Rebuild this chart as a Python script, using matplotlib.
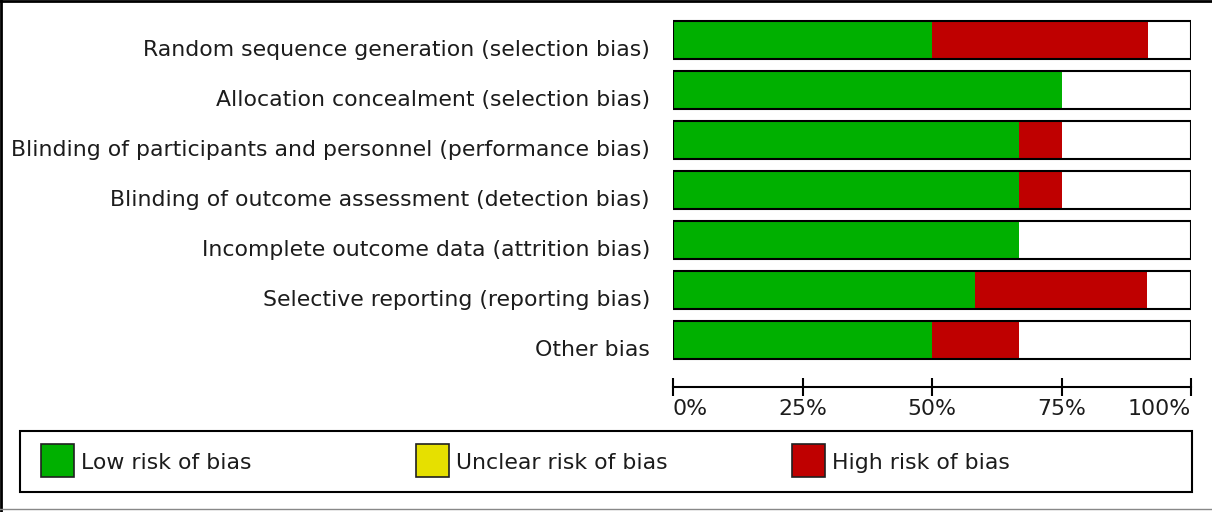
import matplotlib
matplotlib.use("Agg")
import matplotlib.pyplot as plt
from matplotlib.patches import Rectangle
from matplotlib.lines import Line2D

# Risk of bias domains (top to bottom) and percentage of studies per judgement
domains = [
    "Random sequence generation (selection bias)",
    "Allocation concealment (selection bias)",
    "Blinding of participants and personnel (performance bias)",
    "Blinding of outcome assessment (detection bias)",
    "Incomplete outcome data (attrition bias)",
    "Selective reporting (reporting bias)",
    "Other bias",
]
low_pct = [50.0, 75.0, 66.7, 66.7, 66.7, 58.3, 50.0]
high_pct = [41.7, 0.0, 8.3, 8.3, 0.0, 33.3, 16.7]
tick_vals = [0, 25, 50, 75, 100]
tick_labels = ["0%", "25%", "50%", "75%", "100%"]
legend_labels = ["Low risk of bias", "Unclear risk of bias", "High risk of bias"]

green = "#00B000"
yellow = "#E6E000"
red = "#BF0000"
txt = "#1c1c1c"

W, H = 1212, 512
plt.rcParams['font.family'] = ['DejaVu Sans']
fs = 15.8

fig = plt.figure(figsize=(W / 100, H / 100), dpi=100)
ax = fig.add_axes([673 / W, 1 - 365 / H, (1191 - 673) / W, 350 / H])

y = list(range(len(domains)))
bh = 0.77
ax.barh(y, low_pct, height=bh, color=green, linewidth=0)
ax.barh(y, high_pct, left=low_pct, height=bh, color=red, linewidth=0)
# outline of full 0-100% box
ax.barh(y, [100] * len(y), height=bh, facecolor="none", edgecolor="black", linewidth=1.5)

ax.set_xlim(0, 100)
ax.set_ylim(len(domains) - 0.5, -0.5)
ax.set_yticks([])
for s in ["left", "right", "top"]:
    ax.spines[s].set_visible(False)
ax.spines["bottom"].set_position(("outward", 16))
ax.spines["bottom"].set_linewidth(1.5)
ax.set_xticks(tick_vals)
ax.set_xticklabels(tick_labels, fontsize=fs, color=txt)
ax.tick_params(axis="x", direction="inout", length=13, width=1.5, pad=2)
labs = ax.get_xticklabels()
labs[0].set_horizontalalignment("left")
labs[-1].set_horizontalalignment("right")

trans = ax.get_yaxis_transform()
for i, d in enumerate(domains):
    ax.text(-23 / 518, i + 0.2, d, transform=trans, ha="right", va="center",
            fontsize=fs, color=txt)

# legend box
fig.patches.append(Rectangle((20 / W, 1 - 492 / H), (1192 - 20) / W, 61 / H,
                             transform=fig.transFigure, facecolor="white",
                             edgecolor="black", linewidth=1.5))
for xs, c, lab in zip([41, 416, 792], [green, yellow, red], legend_labels):
    fig.patches.append(Rectangle((xs / W, 1 - 477 / H), 33 / W, 33 / H,
                                 transform=fig.transFigure, facecolor=c,
                                 edgecolor="#202020", linewidth=1.2))
    fig.text((xs + 40) / W, 1 - 463 / H, lab, ha="left", va="center",
             fontsize=fs, color=txt)

# image frame
fig.lines.append(Line2D([1 / W, 1 / W], [0, 1], transform=fig.transFigure, color="black", lw=2))
fig.lines.append(Line2D([0, 1], [1 - 1 / H, 1 - 1 / H], transform=fig.transFigure, color="black", lw=2))
fig.lines.append(Line2D([0, 1], [1 - 509 / H, 1 - 509 / H], transform=fig.transFigure, color="#888888", lw=1))

fig.savefig("out.png", dpi=100)
